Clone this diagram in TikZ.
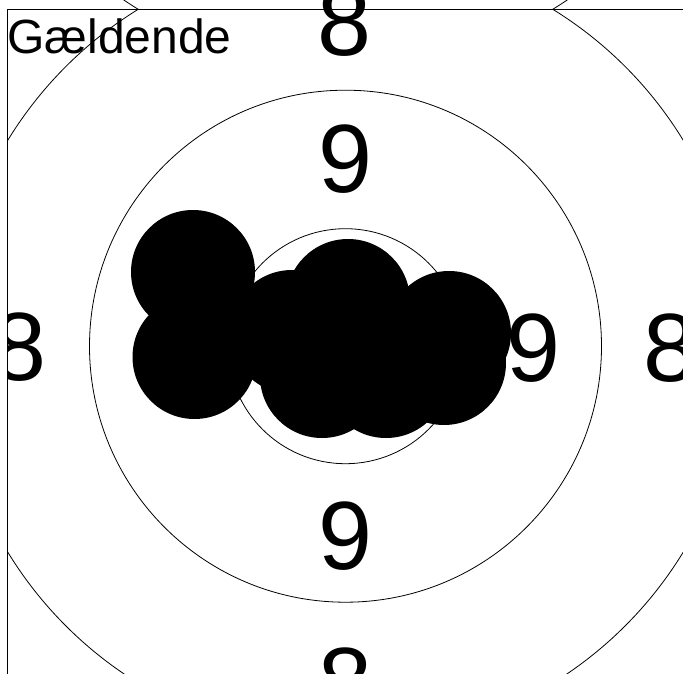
\documentclass[tikz,border=0pt]{standalone}
\usepackage{fontspec}
\setmainfont{Liberation Sans}
\begin{document}
\begin{tikzpicture}[x=1pt,y=-1pt,
  ring/.style={draw=black, line width=0.8pt},
  hole/.style={fill=black},
  lbl/.style={inner sep=0pt, font=\fontsize{97}{97}\selectfont},
  title/.style={inner sep=0pt, anchor=base west, font=\fontsize{48}{48}\selectfont},
  framestyle/.style={draw=black, line width=1.1pt}]
\useasboundingbox (0,0) rectangle (683,674);
\coordinate (c) at (345.5,346.2);
\coordinate (cm) at (345.5,-327.6);
% rings, clipped by the frame
\begin{scope}
  \clip (7.3,9.3) rectangle (683,674);
  \draw[ring] (c) circle[radius=395.5pt];
  \draw[ring] (c) circle[radius=256pt];
  \draw[ring] (c) circle[radius=117.5pt];
\end{scope}
% mirrored arc above the top frame line
\begin{scope}
  \clip (7.3,0) rectangle (683,9.3);
  \draw[ring] (cm) circle[radius=395.5pt];
\end{scope}
% shot holes
\coordinate (hA) at (193,272);
\coordinate (hB) at (194.5,357);
\coordinate (hC) at (348,301);
\coordinate (hD) at (449,333);
\coordinate (hD2) at (444,363);
\coordinate (hE) at (322,376);
\coordinate (hF) at (386,376);
\coordinate (hG) at (292,332);
\coordinate (hH) at (350,345);
\foreach \h in {hA,hB,hC,hD,hD2,hE,hF,hG,hH}
  \fill[hole] (\h) circle[radius=62pt];
% ring labels
\node[lbl] (n9t) at (345,158.7) {9};
\node[lbl] (n9b) at (345,535.8) {9};
\node[lbl] (n9r) at (533.3,348) {9};
\node[lbl] (n8t) at (344.5,22) {8};
\node[lbl] (n8b) at (345,682) {8};
\node[lbl] (n8r) at (670,348) {8};
\begin{scope}
  \clip (7.3,0) rectangle (683,674);
  \node[lbl] (n8l) at (19.8,347) {8};
\end{scope}
% title
\node[title] (ttl) at (7.3,53.3) {Gældende};
% frame
\coordinate (fr) at (683,9.3);
\coordinate (fc) at (7.3,9.3);
\coordinate (fb) at (7.3,674);
\draw[framestyle] (fr) -- (fc) -- (fb);
\end{tikzpicture}
\end{document}
